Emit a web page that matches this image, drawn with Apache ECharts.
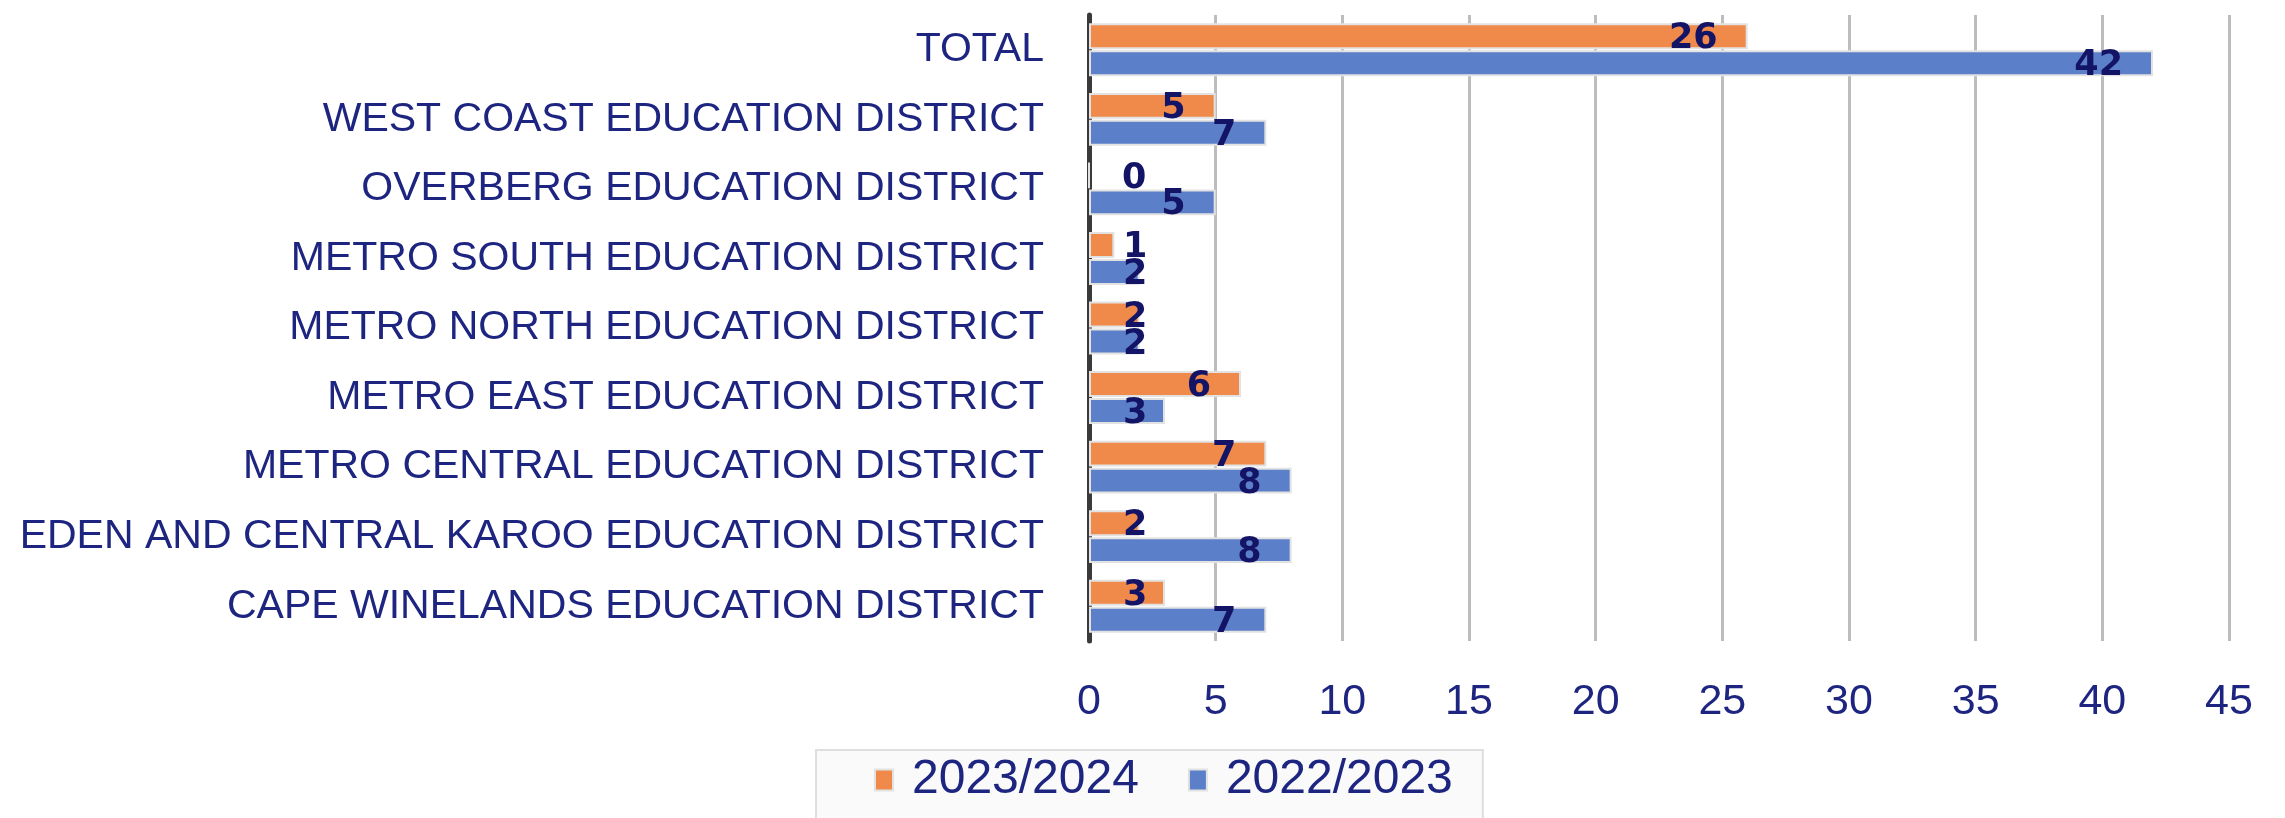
<!DOCTYPE html>
<html>
<head>
<meta charset="utf-8">
<script src="https://cdn.jsdelivr.net/npm/echarts@6/dist/echarts.min.js"></script>
<style>
  html, body { margin: 0; padding: 0; background: #fff; }
  #chart { width: 2285px; height: 818px; }
</style>
</head>
<body>
<div id="chart"></div>
<script>
// categories, bottom to top
const districts = [
  'CAPE WINELANDS EDUCATION DISTRICT',
  'EDEN AND CENTRAL KAROO EDUCATION DISTRICT',
  'METRO CENTRAL EDUCATION DISTRICT',
  'METRO EAST EDUCATION DISTRICT',
  'METRO NORTH EDUCATION DISTRICT',
  'METRO SOUTH EDUCATION DISTRICT',
  'OVERBERG EDUCATION DISTRICT',
  'WEST COAST EDUCATION DISTRICT',
  'TOTAL'
]
const values2324 = [3, 2, 7, 6, 2, 1, 0, 5, 26]
const values2223 = [7, 8, 8, 3, 2, 2, 5, 7, 42]
const xTicks = { min: 0, max: 45, step: 5 }

const navy = '#1d2580'
const labelNavy = '#141466'

// short bars get the label pushed right of the axis, like excel does
function toBarData (vals) {
  return vals.map(v => {
    if (v <= 3) {
      return { value: v, label: { position: 'insideLeft', distance: 34 } }
    }
    return { value: v }
  })
}

const barLabel = {
  show: true,
  position: 'insideRight',
  distance: 30,
  offset: [0, 3],
  color: labelNavy,
  fontFamily: 'DejaVu Sans',
  fontWeight: 'bold',
  fontSize: 35
}

const chart = echarts.init(document.getElementById('chart'))
chart.setOption({
  animation: false,
  backgroundColor: '#fff',
  grid: { left: 1089, right: 56, top: 15, bottom: 177 },
  legend: {
    left: 816,
    top: 750,
    padding: [6, 30, 40, 58],
    itemWidth: 18,
    itemHeight: 21,
    itemGap: 49,
    icon: 'rect',
    backgroundColor: '#fafafa',
    borderColor: '#dedede',
    borderWidth: 2,
    textStyle: {
      color: navy,
      fontFamily: 'Liberation Sans',
      fontSize: 48,
      padding: [0, 0, 0, 14]
    },
    data: ['2023/2024', '2022/2023']
  },
  xAxis: {
    type: 'value',
    min: xTicks.min,
    max: xTicks.max,
    interval: xTicks.step,
    axisLine: { show: false },
    axisTick: { show: false },
    axisLabel: {
      color: navy,
      fontFamily: 'Liberation Sans',
      fontSize: 43,
      margin: 40
    },
    splitLine: { lineStyle: { color: '#bdbdbd', width: 3 } }
  },
  yAxis: {
    type: 'category',
    data: districts,
    axisLine: { lineStyle: { color: '#3a3a3a', width: 5 } },
    axisTick: { show: false },
    axisLabel: {
      color: navy,
      fontFamily: 'Liberation Sans',
      fontSize: 41,
      margin: 45
    }
  },
  series: [
    {
      name: '2023/2024',
      type: 'bar',
      data: toBarData(values2324),
      barGap: '4%',
      barCategoryGap: '24%',
      itemStyle: { color: '#f08a4b', borderColor: '#e2e2e2', borderWidth: 2 },
      label: barLabel
    },
    {
      name: '2022/2023',
      type: 'bar',
      data: toBarData(values2223),
      itemStyle: { color: '#5b80c9', borderColor: '#e2e2e2', borderWidth: 2 },
      label: barLabel
    }
  ]
})
</script>
</body>
</html>
